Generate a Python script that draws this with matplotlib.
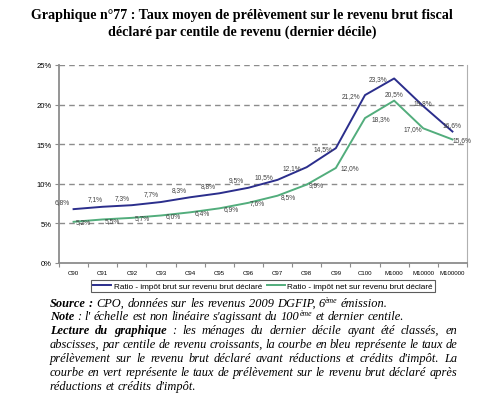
import numpy as np
import matplotlib.pyplot as plt

# Data
categories = ["C90", "C91", "C92", "C93", "C94", "C95", "C96", "C97", "C98",
              "C99", "C100", "M1000", "M10000", "M100000"]
brut = [6.8, 7.1, 7.3, 7.7, 8.3, 8.8, 9.5, 10.5, 12.1, 14.5, 21.2, 23.3, 19.8, 16.6]
net = [5.2, 5.5, 5.7, 6.0, 6.4, 6.9, 7.6, 8.5, 9.9, 12.0, 18.3, 20.5, 17.0, 15.6]
yticks = [0, 5, 10, 15, 20, 25]

label_brut = "Ratio - impôt brut sur revenu brut déclaré"
label_net = "Ratio - impôt net sur revenu brut déclaré"

title = ("Graphique n°77 : Taux moyen de prélèvement sur le revenu brut fiscal\n"
         "déclaré par centile de revenu (dernier décile)")

# body lines: (justified?, text) ; **word** = bold italic, a^b = superscript
body = [
    (False, "**Source** **:** CPO, données sur les revenus 2009 DGFIP, 6^ème émission."),
    (False, "**Note** : l' échelle est non linéaire s'agissant du 100^ème et dernier centile."),
    (True, "**Lecture** **du** **graphique** : les ménages du dernier décile ayant été classés, en"),
    (True, "abscisses, par centile de revenu croissants, la courbe en bleu représente le taux de"),
    (True, "prélèvement sur le revenu brut déclaré avant réductions et crédits d'impôt. La"),
    (True, "courbe en vert représente le taux de prélèvement sur le revenu brut déclaré après"),
    (False, "réductions et crédits d'impôt."),
]

# label offsets in pixels (dx, dy up)
off_brut = [(-11, 8), (-7, 8), (-10, 8), (-10, 8), (-11, 8), (-11, 8), (-12, 8),
            (-14, 3), (-15, 0), (-13, 0), (-14, 0), (-16, 0), (0, 4), (0, 7)]
off_net = [(10, 0), (10, -1), (10, 0), (12, 0), (12, 0), (12, 0), (9, 0),
           (11, -1), (10, 0), (14, 0), (16, 0), (0, 7), (-10, 0), (10, 0)]

W, H = 500, 402
BLUE = "#2b2e8c"
GREEN = "#52ad7c"
GRID = "#8c8c8c"

fig = plt.figure(figsize=(W / 100, H / 100), dpi=100)
fig.patch.set_facecolor("white")

ax = fig.add_axes([59 / W, 1 - 264 / H, (467 - 59) / W, (264 - 66) / H])
x = np.arange(len(categories))

ax.plot(x, brut, color=BLUE, lw=1.4, label=label_brut, zorder=3)
ax.plot(x, net, color=GREEN, lw=1.4, label=label_net, zorder=3)

p2pt = 0.72
for xi, v, (dx, dy) in zip(x, brut, off_brut):
    ax.annotate(f"{v:.1f}%".replace(".", ","), (xi, v), xytext=(dx * p2pt, dy * p2pt),
                textcoords="offset points", ha="center", va="center",
                fontsize=4.8, color="#404040", family="Liberation Sans", zorder=4)
for xi, v, (dx, dy) in zip(x, net, off_net):
    ax.annotate(f"{v:.1f}%".replace(".", ","), (xi, v), xytext=(dx * p2pt, dy * p2pt),
                textcoords="offset points", ha="center", va="center",
                fontsize=4.8, color="#404040", family="Liberation Sans", zorder=4)

ax.set_xlim(-0.5, len(categories) - 0.5)
ax.set_ylim(0, 25)
ax.set_yticks(yticks)
ax.set_yticklabels([f"{t}%" for t in yticks], family="Liberation Sans", fontsize=5.5)
for t in yticks[1:]:
    ax.axhline(t, color=GRID, lw=1, ls=(0, (4, 3)), zorder=1)

ax.set_xticks(x)
ax.set_xticklabels(categories, family="Liberation Sans", fontsize=4.4)
ax.set_xticks(np.arange(-0.5, len(categories)), minor=True)
ax.tick_params(axis="x", which="major", length=0, pad=5)
ax.tick_params(axis="x", which="minor", length=3, color=GRID, width=0.8)
ax.tick_params(axis="y", length=3, color=GRID, width=0.8, pad=2)

ax.spines["top"].set_visible(False)
for s in ["left", "bottom"]:
    ax.spines[s].set_color(GRID)
    ax.spines[s].set_linewidth(1.3)
ax.spines["right"].set_color("#b0b0b0")
ax.spines["right"].set_linewidth(0.8)

leg = fig.legend(loc="center", bbox_to_anchor=(263 / W, 1 - 287 / H), ncol=2,
                 prop={"family": "Liberation Sans", "size": 5.9}, frameon=True,
                 fancybox=False, handlelength=2.2, handletextpad=0.3, columnspacing=0.6,
                 borderpad=0.25, edgecolor="#333333")
leg.get_frame().set_linewidth(0.8)

fig.text(242 / W, 1 - 24 / H, title, ha="center", va="center", family="Liberation Serif",
         weight="bold", fontsize=10.1, linespacing=1.25)

# body text, justified word by word
fig.canvas.draw()
rend = fig.canvas.get_renderer()
FS = 8.9
X0, X1 = 50, 457
line_y = [307, 320, 334, 348, 362, 376, 390]


def parse(line):
    words = []
    for tok in line.split(" "):
        if tok.startswith("**"):
            words.append([(tok.strip("*"), "b")])
        elif "^" in tok:
            base, sup = tok.split("^")
            words.append([(base, "i"), (sup, "s")])
        else:
            words.append([(tok, "i")])
    return words


def make(txt, kind):
    kw = dict(family="Liberation Serif", style="italic", va="baseline", ha="left")
    if kind == "b":
        kw["weight"] = "bold"
    kw["fontsize"] = 5.6 if kind == "s" else FS
    return fig.text(0, 0, txt, **kw)


sp = make("x x", "i")
sp2 = make("xx", "i")
space = sp.get_window_extent(rend).width - sp2.get_window_extent(rend).width
sp.remove()
sp2.remove()

for (just, line), yb in zip(body, line_y):
    words = parse(line)
    objs = []
    widths = []
    for w in words:
        parts = []
        tot = 0
        for txt, kind in w:
            t = make(txt, kind)
            wd = t.get_window_extent(rend).width
            parts.append((t, kind, tot))
            tot += wd
        objs.append(parts)
        widths.append(tot)
    gap = space
    if just and len(words) > 1:
        gap = (X1 - X0 - sum(widths)) / (len(words) - 1)
    xc = X0
    for parts, wd in zip(objs, widths):
        for t, kind, dx in parts:
            ypix = yb - 4 if kind == "s" else yb
            t.set_position(((xc + dx) / W, 1 - ypix / H))
        xc += wd + gap

fig.savefig("out.png", dpi=100, facecolor="white")
